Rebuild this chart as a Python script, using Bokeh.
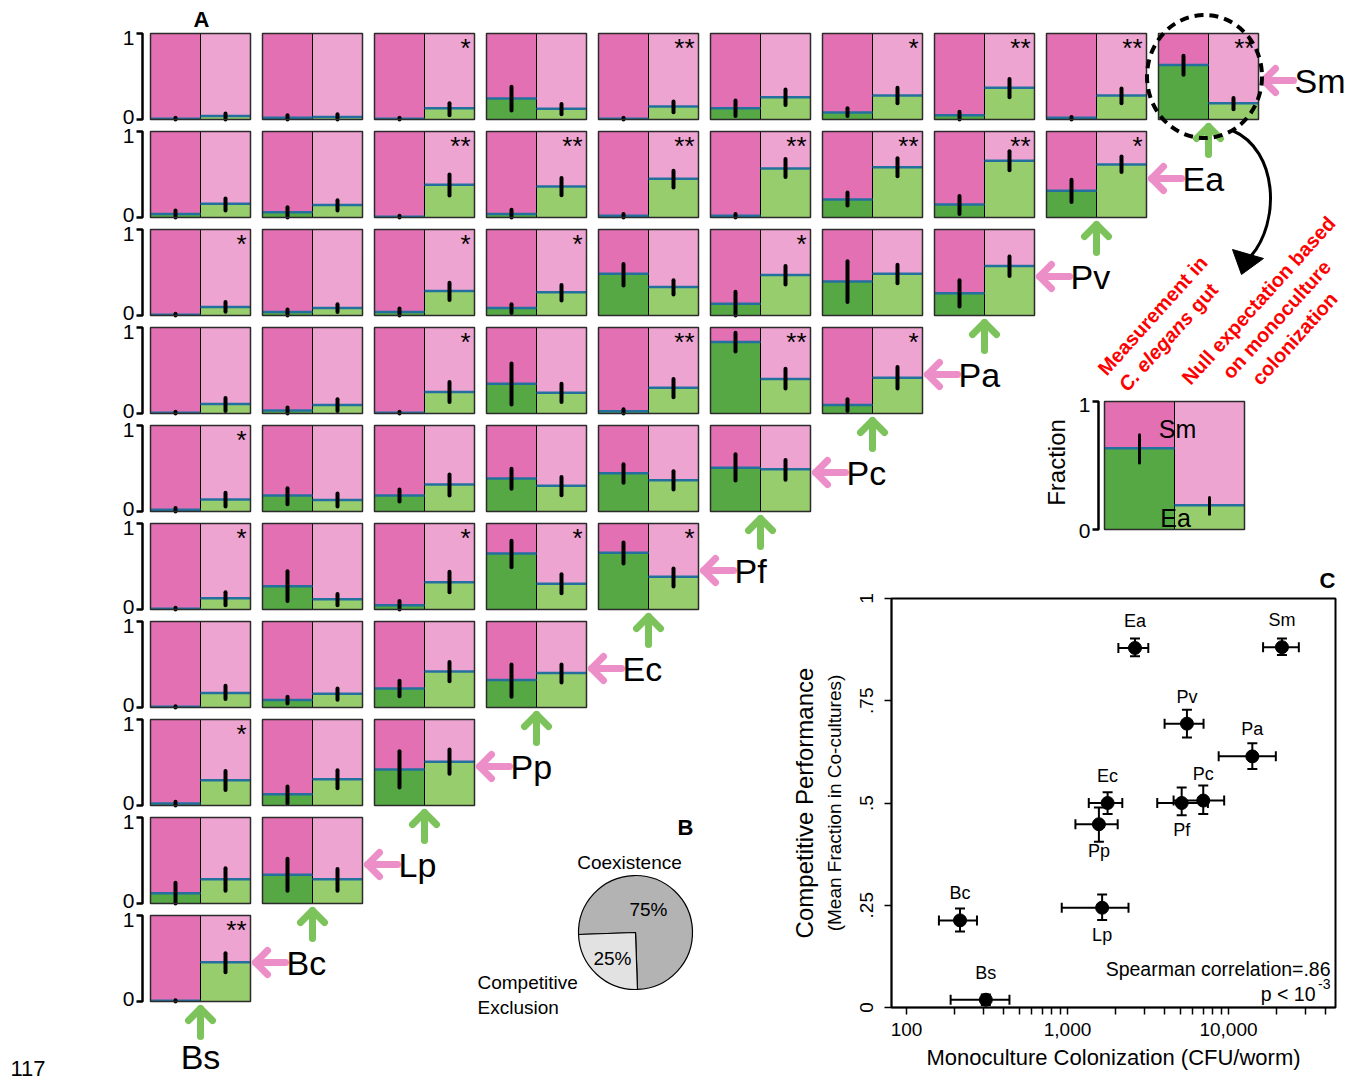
import math
from bokeh.plotting import figure
from bokeh.models import (Range1d, ColumnDataSource, Whisker, TeeHead, FixedTicker,
                          NumeralTickFormatter, LinearAxis, GridBox)
from bokeh.core.properties import value
from bokeh.embed import file_html
from bokeh.resources import INLINE

FONT = value("Liberation Sans")

# ---------------------------------------------------------------- data (A)
row_species = ["Sm", "Ea", "Pv", "Pa", "Pc", "Pf", "Ec", "Pp", "Lp", "Bc"]
col_species = ["Bs", "Bc", "Lp", "Pp", "Ec", "Pf", "Pc", "Pa", "Pv", "Ea"]

# fraction of the column species (green) measured in the gut
meas = [
    [0.01, 0.02, 0.01, 0.245, 0.01, 0.13, 0.08, 0.05, 0.02, 0.635],
    [0.04, 0.06, 0.01, 0.04, 0.02, 0.02, 0.21, 0.15, 0.31],
    [0.01, 0.04, 0.04, 0.086, 0.485, 0.137, 0.395, 0.26],
    [0.01, 0.035, 0.01, 0.345, 0.025, 0.83, 0.10],
    [0.02, 0.186, 0.186, 0.384, 0.446, 0.51],
    [0.01, 0.27, 0.05, 0.65, 0.66],
    [0.008, 0.086, 0.22, 0.32],
    [0.024, 0.13, 0.42],
    [0.12, 0.333],
    [0.008],
]
meas_lo = [
    [0.0, 0.0, 0.0, 0.105, 0.0, 0.04, 0.04, 0.0, 0.0, 0.52],
    [0.0, 0.0, 0.0, 0.0, 0.0, 0.0, 0.14, 0.04, 0.18],
    [0.0, 0.0, 0.0, 0.03, 0.35, 0.0, 0.156, 0.105],
    [0.0, 0.0, 0.0, 0.105, 0.0, 0.72, 0.03],
    [0.0, 0.085, 0.116, 0.264, 0.333, 0.36],
    [0.0, 0.10, 0.0, 0.49, 0.535],
    [0.0, 0.047, 0.13, 0.125],
    [0.0, 0.024, 0.21],
    [0.0, 0.147],
    [0.0],
]
meas_hi = [
    [0.02, 0.05, 0.02, 0.38, 0.02, 0.22, 0.13, 0.09, 0.03, 0.74],
    [0.08, 0.12, 0.02, 0.09, 0.04, 0.04, 0.29, 0.25, 0.44],
    [0.02, 0.07, 0.08, 0.13, 0.60, 0.275, 0.63, 0.41],
    [0.02, 0.07, 0.02, 0.58, 0.05, 0.94, 0.165],
    [0.04, 0.27, 0.256, 0.496, 0.55, 0.665],
    [0.02, 0.445, 0.10, 0.80, 0.78],
    [0.015, 0.125, 0.31, 0.50],
    [0.045, 0.22, 0.63],
    [0.24, 0.52],
    [0.015],
]
# null expectation from monoculture colonization
expd = [
    [0.04, 0.03, 0.13, 0.125, 0.15, 0.26, 0.28, 0.37, 0.28, 0.19],
    [0.16, 0.145, 0.38, 0.36, 0.45, 0.57, 0.585, 0.66, 0.615],
    [0.10, 0.086, 0.285, 0.27, 0.33, 0.47, 0.485, 0.575],
    [0.11, 0.10, 0.25, 0.24, 0.30, 0.40, 0.415],
    [0.14, 0.135, 0.314, 0.30, 0.364, 0.49],
    [0.13, 0.12, 0.316, 0.30, 0.38],
    [0.17, 0.16, 0.42, 0.40],
    [0.294, 0.306, 0.51],
    [0.283, 0.283],
    [0.455],
]
exp_lo = [
    [0.0, 0.0, 0.05, 0.06, 0.085, 0.17, 0.19, 0.26, 0.19, 0.12],
    [0.08, 0.08, 0.255, 0.26, 0.35, 0.47, 0.48, 0.55, 0.53],
    [0.043, 0.04, 0.18, 0.175, 0.245, 0.36, 0.375, 0.46],
    [0.03, 0.03, 0.135, 0.135, 0.19, 0.29, 0.29],
    [0.058, 0.058, 0.186, 0.19, 0.256, 0.37],
    [0.05, 0.05, 0.20, 0.19, 0.266],
    [0.10, 0.09, 0.305, 0.29],
    [0.18, 0.20, 0.37],
    [0.147, 0.147],
    [0.34],
]
exp_hi = [
    [0.07, 0.06, 0.19, 0.18, 0.21, 0.35, 0.37, 0.47, 0.36, 0.25],
    [0.22, 0.20, 0.50, 0.46, 0.545, 0.68, 0.69, 0.77, 0.71],
    [0.156, 0.13, 0.38, 0.355, 0.41, 0.575, 0.59, 0.685],
    [0.18, 0.165, 0.365, 0.345, 0.40, 0.52, 0.54],
    [0.217, 0.21, 0.43, 0.40, 0.469, 0.60],
    [0.20, 0.18, 0.44, 0.41, 0.477],
    [0.254, 0.22, 0.53, 0.50],
    [0.40, 0.41, 0.65],
    [0.41, 0.40],
    [0.56],
]
stars = [
    ["", "", "*", "", "**", "", "*", "**", "**", "**"],
    ["", "", "**", "**", "**", "**", "**", "**", "*"],
    ["*", "", "*", "*", "", "*", "", ""],
    ["", "", "*", "", "**", "**", "*"],
    ["*", "", "", "", "", ""],
    ["*", "", "*", "*", "*"],
    ["", "", "", ""],
    ["*", "", ""],
    ["", ""],
    ["**"],
]

# ---------------------------------------------------------------- data (B)
pie_names = ["Coexistence", "Competitive Exclusion"]
pie_pct = [75, 25]
pie_text = ["75%", "25%"]

# ---------------------------------------------------------------- data (C)
c_species = ["Ea", "Sm", "Pv", "Pa", "Ec", "Pc", "Pf", "Pp", "Lp", "Bc", "Bs"]
c_cfu = [2625, 21480, 5520, 14060, 1775, 6970, 5120, 1567, 1641, 215, 311]
c_cfu_lo = [2070, 16400, 4010, 8690, 1356, 4560, 3610, 1120, 921, 159, 188]
c_cfu_hi = [3175, 27350, 7000, 19680, 2190, 9400, 7450, 2050, 2393, 274, 436]
c_frac = [0.879, 0.881, 0.694, 0.614, 0.500, 0.506, 0.500, 0.448, 0.244, 0.213, 0.019]
c_frac_lo = [0.859, 0.862, 0.660, 0.583, 0.473, 0.473, 0.470, 0.405, 0.214, 0.186, 0.006]
c_frac_hi = [0.902, 0.902, 0.728, 0.646, 0.526, 0.543, 0.538, 0.489, 0.276, 0.242, 0.032]
c_label_side = ["above", "above", "above", "above", "above", "above", "below", "below", "below", "above", "above"]
x_ticks = [100, 1000, 10000]
x_minor = [200, 300, 400, 500, 600, 700, 800, 900,
           2000, 3000, 4000, 5000, 6000, 7000, 8000, 9000,
           20000, 30000, 40000]
y_ticks = [0, 0.25, 0.5, 0.75, 1]
y_tick_labels = ["0", ".25", ".5", ".75", "1"]
spearman_text = "Spearman correlation=.86"
p_text, p_exp = "p < 10", "-3"

# ---------------------------------------------------------------- styles
PK_D, PK_L = "#e370b2", "#eea4d0"
GR_D, GR_L = "#56a845", "#98cd6e"
BLUE = "#23709f"
PINK_ARROW = "#ec8fc8"
GREEN_ARROW = "#7cc35b"

X0, DX, PW = 150, 112, 100
Y0, DY, PH = 33, 98, 86

PAGE_W, PAGE_H = 1352, 1080
SPLIT_Y = 552
SPLIT_X = 780

# ---------------------------------------------------------------- collect shapes
fills = dict(l=[], r=[], t=[], b=[], c=[])
levels = dict(x0=[], x1=[], y=[])
errs = dict(x=[], y0=[], y1=[], w=[])
boxes = dict(l=[], r=[], t=[], b=[])
divs = dict(x=[], y0=[], y1=[])
texts = []   # (x, y, text, style)


def add_text(xs, ys, ts, **style):
    for x, y, t in zip(xs, ys, ts):
        texts.append((x, y, t, style))


def add_panel(L, T, W, H, fm, flo, fhi, fe, felo, fehi, ew):
    M = L + W / 2.0
    B = T + H
    for x0, x1, f, lo, hi, cpk, cgr in ((L, M, fm, flo, fhi, PK_D, GR_D),
                                        (M, L + W, fe, felo, fehi, PK_L, GR_L)):
        yl = B - f * H
        fills["l"] += [x0, x0]
        fills["r"] += [x1, x1]
        fills["t"] += [T, yl]
        fills["b"] += [yl, B]
        fills["c"] += [cpk, cgr]
        levels["x0"].append(x0)
        levels["x1"].append(x1)
        levels["y"].append(yl)
        errs["x"].append((x0 + x1) / 2.0)
        errs["y0"].append(B - lo * H)
        errs["y1"].append(B - hi * H)
        errs["w"].append(ew)
    boxes["l"].append(L)
    boxes["r"].append(L + W)
    boxes["t"].append(T)
    boxes["b"].append(B)
    divs["x"].append(M)
    divs["y0"].append(T)
    divs["y1"].append(B)


brk_xs, brk_ys = [], []
pink_xs, pink_ys, green_xs, green_ys = [], [], [], []

STAR = dict(text_align="right", text_baseline="top", text_font_size="26px")
TICK1 = dict(text_align="right", text_baseline="top", text_font_size="21px")
TICK0 = dict(text_align="right", text_baseline="alphabetic", text_font_size="21px")
SPEC = dict(text_align="left", text_baseline="middle", text_font_size="34px")

for r, sp in enumerate(row_species):
    T = Y0 + DY * r
    B = T + PH
    n = len(meas[r])
    for c in range(n):
        L = X0 + DX * c
        add_panel(L, T, PW, PH, meas[r][c], meas_lo[r][c], meas_hi[r][c],
                  expd[r][c], exp_lo[r][c], exp_hi[r][c], 4)
        if stars[r][c]:
            add_text([L + PW - 4], [T - 1], [stars[r][c]], **STAR)
    brk_xs.append([136, 142, 142, 136])
    brk_ys.append([T, T, B, B])
    add_text([134], [T - 3], ["1"], **TICK1)
    add_text([134], [B - 3], ["0"], **TICK0)
    Rl = X0 + DX * (n - 1) + PW
    tx, ty = Rl + 5, T + 47
    pink_xs += [[tx + 12, tx, tx + 12], [tx, tx + 30]]
    pink_ys += [[ty - 12, ty, ty + 12], [ty, ty]]
    add_text([Rl + 36], [ty], [sp], **SPEC)
    gx, gy = X0 + DX * (n - 1) + PW / 2.0, B + 7
    green_xs += [[gx - 12, gx, gx + 12], [gx, gx]]
    green_ys += [[gy + 12, gy, gy + 12], [gy, gy + 28]]

add_text([X0 + PW / 2.0], [1056], [col_species[0]], text_align="center", text_baseline="middle",
         text_font_size="34px")

# legend panel (same pair as the circled Sm / Ea panel)
LG_L, LG_T, LG_W, LG_H = 1104, 401, 140, 128
add_panel(LG_L, LG_T, LG_W, LG_H, meas[0][9], meas_lo[0][9], meas_hi[0][9],
          expd[0][9], exp_lo[0][9], exp_hi[0][9], 3)
brk_xs.append([LG_L - 12, LG_L - 6, LG_L - 6, LG_L - 12])
brk_ys.append([LG_T, LG_T, LG_T + LG_H, LG_T + LG_H])
add_text([LG_L - 14], [LG_T - 4], ["1"], **TICK1)
add_text([LG_L - 14], [LG_T + LG_H + 1], ["0"], **TICK0)
add_text([1177, 1175], [428, 517], [row_species[0], row_species[1]], text_align="center",
         text_baseline="middle", text_font_size="25px")
add_text([1056], [462], ["Fraction"], angle=math.pi / 2, text_align="center",
         text_baseline="middle", text_font_size="24px")

ang = math.radians(48)
RED = dict(angle=ang, text_baseline="middle", text_font_size="20px",
           text_font_style="bold", text_color="#ff0000")
add_text([1152], [315], ["Measurement in"], text_align="center", **RED)
cx2, cy2 = 1170, 334
dxu, dyu = math.cos(ang), -math.sin(ang)
add_text([cx2 + 28 * dxu], [cy2 + 28 * dyu], ["C. elegans"], text_align="right",
         **{**RED, "text_font_style": "bold italic"})
add_text([cx2 + 34 * dxu], [cy2 + 34 * dyu], ["gut"], text_align="left", **RED)
add_text([1258, 1276, 1294], [300, 319, 338],
         ["Null expectation based", "on monoculture", "colonization"], text_align="center", **RED)

add_text([201, 685], [19, 827], ["A", "B"], text_align="center", text_baseline="middle",
         text_font_size="22px", text_font_style="bold")
add_text([10], [1068], ["117"], text_align="left", text_baseline="alphabetic", text_font_size="22px")

# pie (B)
PIE_X, PIE_Y, PIE_R = 635, 932, 57
tot = float(sum(pie_pct))
w_start, w_end = [], []
a = math.radians(182)
for v in reversed(pie_pct):
    w_start.append(a)
    a += 2 * math.pi * v / tot
    w_end.append(a)
w_start, w_end = w_start[::-1], w_end[::-1]
add_text([648, 612], [909, 958], pie_text, text_align="center", text_baseline="middle", text_font_size="19px")
add_text([629], [862], [pie_names[0]], text_align="center", text_baseline="middle", text_font_size="19px")
add_text([477, 477], [982, 1007], pie_names[1].split(" "), text_align="left", text_baseline="middle",
         text_font_size="19px")

# ---------------------------------------------------------------- page canvas (A, B)
p = figure(width=PAGE_W, height=PAGE_H, x_range=Range1d(0, PAGE_W), y_range=Range1d(PAGE_H, 0),
           output_backend="svg", toolbar_location=None, min_border=0, title=None,
           x_axis_location=None, y_axis_location=None, frame_align=False)
p.grid.visible = False
p.outline_line_color = None
p.background_fill_color = "white"
p.border_fill_color = "white"
p.quad(left=fills["l"], right=fills["r"], top=fills["t"], bottom=fills["b"],
       fill_color=fills["c"], line_color=None)
p.segment(x0=divs["x"], y0=divs["y0"], x1=divs["x"], y1=divs["y1"], line_color="black", line_width=1)
p.segment(x0=levels["x0"], y0=levels["y"], x1=levels["x1"], y1=levels["y"], line_color=BLUE, line_width=2.5)
p.segment(x0=errs["x"], y0=errs["y0"], x1=errs["x"], y1=errs["y1"], line_color="black",
          line_width=errs["w"], line_cap="round")
p.quad(left=boxes["l"], right=boxes["r"], top=boxes["t"], bottom=boxes["b"],
       fill_color=None, line_color="#2b2b2b", line_width=1.5)
p.multi_line(xs=brk_xs, ys=brk_ys, line_color="black", line_width=2.5)
p.multi_line(xs=pink_xs, ys=pink_ys, line_color=PINK_ARROW, line_width=7, line_cap="round", line_join="round")
p.multi_line(xs=green_xs, ys=green_ys, line_color=GREEN_ARROW, line_width=7, line_cap="round", line_join="round")
p.ellipse(x=[1204], y=[76], width=[115], height=[123], fill_color=None, line_color="black",
          line_width=4, line_dash="9 6")
p.bezier(x0=[1232], y0=[130], x1=[1250], y1=[256], cx0=[1278], cy0=[150], cx1=[1280], cy1=[222],
         line_color="black", line_width=3)
p.patch(x=[1241, 1232, 1263], y=[274, 249, 258], fill_color="black", line_color="black")
p.wedge(x=[PIE_X, PIE_X], y=[PIE_Y, PIE_Y], radius=PIE_R, start_angle=w_start, end_angle=w_end,
        direction="anticlock", fill_color=["#b3b3b3", "#e2e2e2"], line_color="black", line_width=1.2)
for (x, y, t, st) in texts:
    kw = dict(text_font=FONT, text_color="black")
    kw.update(st)
    p.text(x=[x], y=[y], text=[t], **kw)

# ---------------------------------------------------------------- scatter (C)
FR_L, FR_R, FR_T, FR_B = 891, 1335, 598, 1007
cf = figure(width=PAGE_W - SPLIT_X, height=PAGE_H - SPLIT_Y, x_axis_type="log",
            x_range=Range1d(80.7, 46200), y_range=Range1d(0, 1),
            output_backend="svg", toolbar_location=None, title="C", frame_align=False,
            min_border_left=FR_L - SPLIT_X, min_border_right=PAGE_W - FR_R,
            min_border_top=FR_T - SPLIT_Y, min_border_bottom=PAGE_H - FR_B)
cf.title.align = "right"
cf.title.text_font = "Liberation Sans"
cf.title.text_font_size = "22px"
cf.title.text_font_style = "bold"
cf.title.text_color = "black"
cf.title.standoff = 11
cf.grid.visible = False
cf.border_fill_color = None
cf.background_fill_color = "white"
cf.outline_line_color = "black"
cf.outline_line_width = 2

xa = cf.xaxis[0]
xa.ticker = FixedTicker(ticks=x_ticks, minor_ticks=x_minor)
xa.formatter = NumeralTickFormatter(format="0,0")
xa.axis_label = "Monoculture Colonization (CFU/worm)"
ya = cf.yaxis[0]
ya.ticker = FixedTicker(ticks=y_ticks)
ya.major_label_overrides = dict(zip(y_ticks, y_tick_labels))
ya.major_label_orientation = "vertical"
for ax in (xa, ya):
    ax.axis_line_width = 1.5
    ax.major_tick_in = 0
    ax.major_tick_out = 7
    ax.minor_tick_in = 0
    ax.minor_tick_out = 7
    ax.major_tick_line_width = 1.5
    ax.minor_tick_line_width = 1.5
    ax.major_tick_line_color = "black"
    ax.minor_tick_line_color = "black"
    ax.axis_line_color = "black"
    ax.major_label_text_font = "Liberation Sans"
    ax.major_label_text_font_size = "19px"
    ax.major_label_text_color = "black"
    ax.major_label_standoff = 8
    ax.axis_label_text_font = "Liberation Sans"
    ax.axis_label_text_font_size = "22px"
    ax.axis_label_text_font_style = "normal"
    ax.axis_label_text_color = "black"
xa.axis_label_standoff = 6
ya.minor_tick_out = 0
ya.major_label_standoff = 12

for lbl, size, standoff in (("(Mean Fraction in Co-cultures)", "19px", 12),
                            ("Competitive Performance", "24px", 3)):
    extra = LinearAxis(ticker=FixedTicker(ticks=[]), axis_label=lbl, axis_line_color=None,
                       major_tick_line_color=None, minor_tick_line_color=None,
                       major_label_text_font_size="0px", axis_label_standoff=standoff,
                       axis_label_text_font="Liberation Sans", axis_label_text_font_size=size,
                       axis_label_text_font_style="normal", axis_label_text_color="black")
    cf.add_layout(extra, "left")

src = ColumnDataSource(dict(
    x=c_cfu, xlo=c_cfu_lo, xhi=c_cfu_hi, y=c_frac, ylo=c_frac_lo, yhi=c_frac_hi,
    label=c_species, yoff=[-27 if s == "above" else 27 for s in c_label_side]))

for base, lo, hi, dim in (("y", "xlo", "xhi", "width"), ("x", "ylo", "yhi", "height")):
    cf.add_layout(Whisker(source=src, base=base, lower=lo, upper=hi, dimension=dim,
                          line_color="black", line_width=2,
                          upper_head=TeeHead(size=10, line_width=2, line_color="black"),
                          lower_head=TeeHead(size=10, line_width=2, line_color="black")))
cf.scatter("x", "y", source=src, size=13, color="black")
cf.text("x", "y", text="label", source=src, y_offset="yoff", text_align="center",
        text_baseline="middle", text_font=FONT, text_font_size="18px", text_color="black")

STAT_X = 43050
cf.text(x=[STAT_X], y=[0.095], text=[spearman_text], text_align="right", text_baseline="middle",
        text_font=FONT, text_font_size="19.5px", text_color="black")
cf.text(x=[STAT_X], y=[0.034], text=[p_text], x_offset=-15, text_align="right", text_baseline="middle",
        text_font=FONT, text_font_size="19.5px", text_color="black")
cf.text(x=[STAT_X], y=[0.057], text=[p_exp], text_align="right", text_baseline="middle",
        text_font=FONT, text_font_size="14px", text_color="black")

layout = GridBox(children=[(p, 0, 0, 2, 2), (cf, 1, 1)],
                 rows=[f"{SPLIT_Y}px", f"{PAGE_H - SPLIT_Y}px"],
                 cols=[f"{SPLIT_X}px", f"{PAGE_W - SPLIT_X}px"])

open("out.html", "w").write(file_html(layout, INLINE))
